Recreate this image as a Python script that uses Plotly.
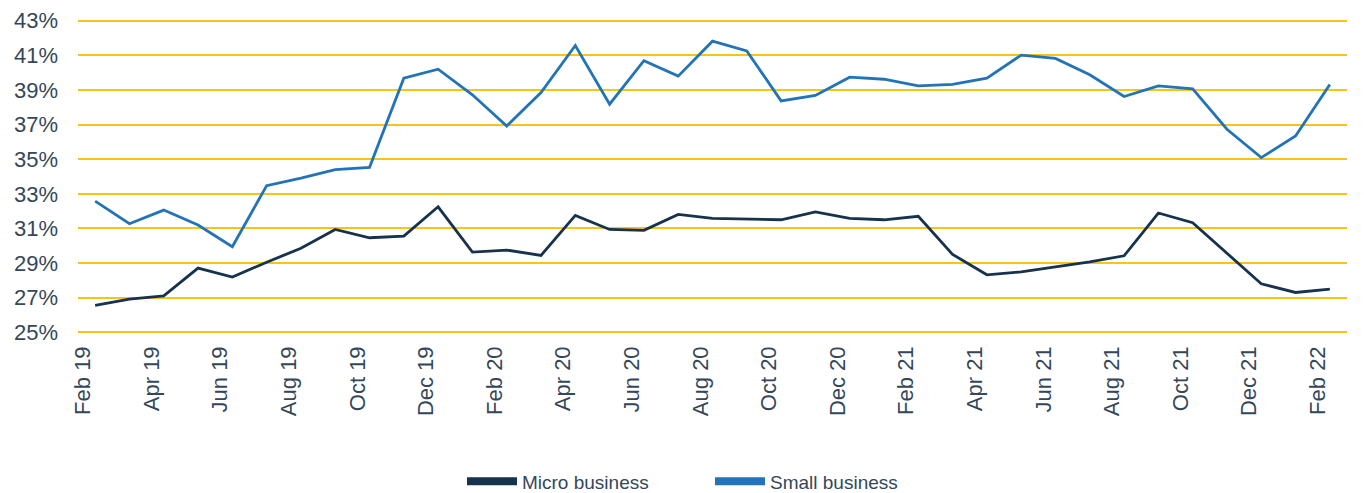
import plotly.graph_objects as go

months = ["Feb 19", "Mar 19", "Apr 19", "May 19", "Jun 19", "Jul 19", "Aug 19", "Sep 19",
          "Oct 19", "Nov 19", "Dec 19", "Jan 20", "Feb 20", "Mar 20", "Apr 20", "May 20",
          "Jun 20", "Jul 20", "Aug 20", "Sep 20", "Oct 20", "Nov 20", "Dec 20", "Jan 21",
          "Feb 21", "Mar 21", "Apr 21", "May 21", "Jun 21", "Jul 21", "Aug 21", "Sep 21",
          "Oct 21", "Nov 21", "Dec 21", "Jan 22", "Feb 22"]

micro_business = [26.55, 26.91, 27.10, 28.71, 28.19, 29.05, 29.85, 30.94, 30.46, 30.56,
                  32.25, 29.63, 29.75, 29.44, 31.75, 30.94, 30.89, 31.81, 31.58, 31.52,
                  31.50, 31.95, 31.58, 31.50, 31.70, 29.50, 28.32, 28.49, 28.76, 29.07,
                  29.42, 31.89, 31.33, 29.56, 27.80, 27.30, 27.49]

small_business = [32.58, 31.27, 32.06, 31.20, 29.94, 33.47, 33.90, 34.40, 34.53, 39.68,
                  40.20, 38.72, 36.92, 38.85, 41.57, 38.18, 40.69, 39.80, 41.82, 41.26,
                  38.37, 38.68, 39.74, 39.62, 39.24, 39.32, 39.68, 41.01, 40.82, 39.88,
                  38.62, 39.24, 39.06, 36.73, 35.09, 36.34, 39.32]

y_ticks = [25, 27, 29, 31, 33, 35, 37, 39, 41, 43]

series = [("Micro business", micro_business, "#17324d"),
          ("Small business", small_business, "#2373b8")]

font_family = "Liberation Sans, Arial, sans-serif"
text_color = "#34475a"

fig = go.Figure()
for name, values, color in series:
    fig.add_trace(go.Scatter(x=months, y=values, mode="lines", name=name,
                             line=dict(color=color, width=2.8), showlegend=False))
# legend entries drawn as thick swatches
for name, values, color in series:
    fig.add_trace(go.Scatter(x=[None], y=[None], mode="lines", name=name,
                             line=dict(color=color, width=8), showlegend=True))

fig.update_layout(
    width=1364, height=493,
    margin=dict(l=78, r=17, t=19.3, b=159.3, autoexpand=False),
    paper_bgcolor="white", plot_bgcolor="white",
    font=dict(family=font_family, color=text_color),
    showlegend=True,
    legend=dict(orientation="h", x=0.3026, xanchor="left", y=-0.468, yanchor="middle",
                font=dict(size=19, color=text_color), itemwidth=50,
                traceorder="normal", entrywidth=183),
)

fig.update_xaxes(
    type="category", range=[-0.5, len(months) - 0.5],
    tickmode="linear", tick0=0, dtick=2, tickangle=-90,
    showgrid=False, showline=False, zeroline=False, ticks="",
    tickfont=dict(size=22, color=text_color),
    ticklabelshift=-12, ticklabelstandoff=7, automargin=False,
)
fig.update_yaxes(
    range=[24.9, 43.1], tickvals=y_ticks, ticktext=[f"{v}%" for v in y_ticks],
    showgrid=True, gridcolor="#fbc316", gridwidth=1.6,
    zeroline=False, showline=False, ticks="",
    tickfont=dict(size=22, color=text_color),
    ticklabelstandoff=19, automargin=False,
)

fig.write_html("out.html", config={"displayModeBar": False},
               post_script="document.body.style.margin='0';document.body.style.overflow='hidden';")
